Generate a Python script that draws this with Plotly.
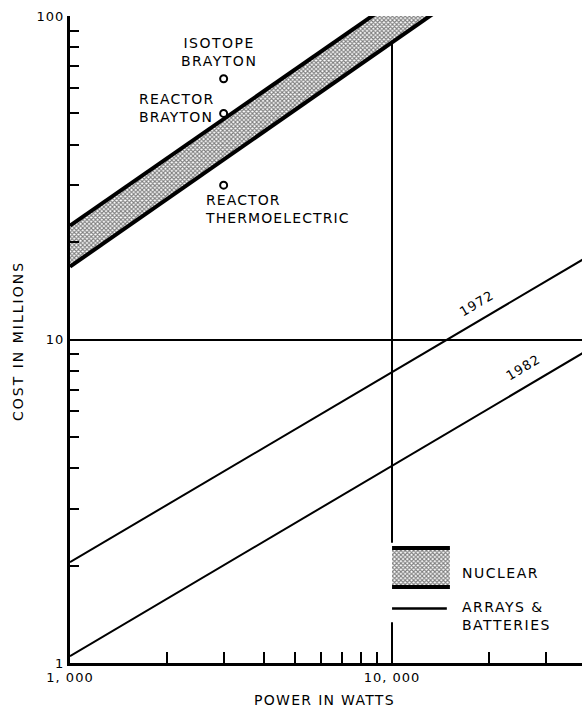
import plotly.graph_objects as go

# ---- data ----
power_arrays = [1000, 10000, 40000]
cost_1972 = [2.05, 7.9, 17.9]
cost_1982 = [1.05, 4.07, 9.2]

power_nuclear = [1000, 10000, 20000]
nuclear_high = [22.5, 110, 178]
nuclear_low = [16.8, 83, 134]

point_power = [3000, 3000, 3000]
point_cost = [64, 50, 30]
point_names = ["ISOTOPE BRAYTON", "REACTOR BRAYTON", "REACTOR THERMOELECTRIC"]

x_major = [1000, 10000]
x_major_text = ["1, 000", "10, 000"]
x_minor = [2000, 3000, 4000, 5000, 6000, 7000, 8000, 9000, 20000, 30000]
y_major = [1, 10, 100]
y_major_text = ["1", "10", "100"]
y_minor = [2, 3, 4, 5, 6, 7, 8, 9, 20, 30, 40, 50, 60, 70, 80, 90]

FONT = "DejaVu Sans"
INK = "black"


def spaced(s, px=1.5):
    return '<span style="letter-spacing:%spx">%s</span>' % (px, s)


fig = go.Figure()

# nuclear band
fig.add_trace(go.Scatter(x=power_nuclear, y=nuclear_low, mode="lines",
                         line=dict(color=INK, width=4), showlegend=False,
                         hoverinfo="skip"))
fig.add_trace(go.Scatter(x=power_nuclear, y=nuclear_high, mode="lines",
                         line=dict(color=INK, width=4), fill="tonexty",
                         fillpattern=dict(shape="x", size=3, solidity=0.6,
                                          fgcolor=INK, bgcolor="white"),
                         showlegend=False, hoverinfo="skip"))

# arrays & batteries lines
fig.add_trace(go.Scatter(x=power_arrays, y=cost_1972, mode="lines",
                         line=dict(color=INK, width=2), showlegend=False))
fig.add_trace(go.Scatter(x=power_arrays, y=cost_1982, mode="lines",
                         line=dict(color=INK, width=2), showlegend=False))

# individual systems
fig.add_trace(go.Scatter(x=point_power, y=point_cost, mode="markers",
                         marker=dict(symbol="circle", size=7, color="white",
                                     line=dict(color=INK, width=2)),
                         text=point_names, showlegend=False))

# ---- custom legend on overlay axes (fractions of plot area) ----
lg_x0, lg_x1 = 0.629, 0.742
fig.add_trace(go.Scatter(x=[0.612, 0.752, 0.752, 0.612, 0.612],
                         y=[0.063, 0.063, 0.186, 0.186, 0.063],
                         xaxis="x2", yaxis="y2", mode="lines", fill="toself",
                         fillcolor="white", line=dict(width=0),
                         showlegend=False, hoverinfo="skip"))
fig.add_trace(go.Scatter(x=[lg_x0, lg_x1], y=[0.1175, 0.1175], xaxis="x2", yaxis="y2",
                         mode="lines", line=dict(color=INK, width=4),
                         showlegend=False, hoverinfo="skip"))
fig.add_trace(go.Scatter(x=[lg_x0, lg_x1], y=[0.1777, 0.1777], xaxis="x2", yaxis="y2",
                         mode="lines", line=dict(color=INK, width=4), fill="tonexty",
                         fillpattern=dict(shape="x", size=3, solidity=0.6,
                                          fgcolor=INK, bgcolor="white"),
                         showlegend=False, hoverinfo="skip"))
fig.add_trace(go.Scatter(x=[lg_x0, 0.736], y=[0.0842, 0.0842], xaxis="x2", yaxis="y2",
                         mode="lines", line=dict(color=INK, width=2.5),
                         showlegend=False, hoverinfo="skip"))

ann = []
def text(x, y, s, size=14, xanchor="left", angle=0, align="left", ls=1.5):
    s = "<br>".join(spaced(p, ls) for p in s.split("<br>"))
    ann.append(dict(x=x, y=y, xref="paper", yref="paper", text=s, showarrow=False,
                    xanchor=xanchor, yanchor="middle", textangle=angle, align=align,
                    font=dict(family=FONT, size=size, color=INK)))

text(0.762, 0.139, "NUCLEAR")
text(0.762, 0.0726, "ARRAYS &amp;<br>BATTERIES")
text(0.291, 0.9436, "ISOTOPE<br>BRAYTON", xanchor="center", align="center")
text(0.1309, 0.8578, "REACTOR<br>BRAYTON", ls=1.2)
text(0.2598, 0.7017, "REACTOR<br>THERMOELECTRIC", ls=1.1)
text(0.794, 0.5564, "1972", size=13, xanchor="center", angle=-30.5, ls=1)
text(0.885, 0.456, "1982", size=13, xanchor="center", angle=-30.5, ls=1)
text(-0.1016, 0.4977, "COST IN MILLIONS", xanchor="center", angle=-90, ls=2)
text(0.498, -0.0572, "POWER IN WATTS", xanchor="center", ls=1.3)

fig.update_layout(
    width=582, height=713,
    margin=dict(l=70, r=0, t=16, b=50),
    paper_bgcolor="white", plot_bgcolor="white",
    font=dict(family=FONT, color=INK),
    annotations=ann,
    xaxis=dict(type="log", range=[3, 4.59], tickvals=x_major,
               ticktext=[spaced(t, 1) for t in x_major_text],
               ticks="inside", ticklen=11, tickwidth=2, tickcolor=INK,
               showline=True, linewidth=3, linecolor=INK,
               showgrid=True, gridcolor=INK, gridwidth=2, zeroline=False,
               tickfont=dict(family=FONT, size=13, color=INK),
               minor=dict(tickvals=x_minor, ticks="inside", ticklen=11,
                          tickwidth=2, tickcolor=INK, showgrid=False)),
    yaxis=dict(type="log", range=[0, 2], tickvals=y_major,
               ticktext=[spaced(t, 1) for t in y_major_text],
               ticks="inside", ticklen=9, tickwidth=2, tickcolor=INK,
               showline=True, linewidth=3, linecolor=INK,
               showgrid=True, gridcolor=INK, gridwidth=1.5, zeroline=False,
               tickfont=dict(family=FONT, size=13, color=INK),
               minor=dict(tickvals=y_minor, ticks="inside", ticklen=9,
                          tickwidth=2, tickcolor=INK, showgrid=False)),
    xaxis2=dict(overlaying="x", range=[0, 1], visible=False, fixedrange=True),
    yaxis2=dict(overlaying="y", range=[0, 1], visible=False, fixedrange=True),
    hovermode=False,
)

fig.write_html("out.html")
